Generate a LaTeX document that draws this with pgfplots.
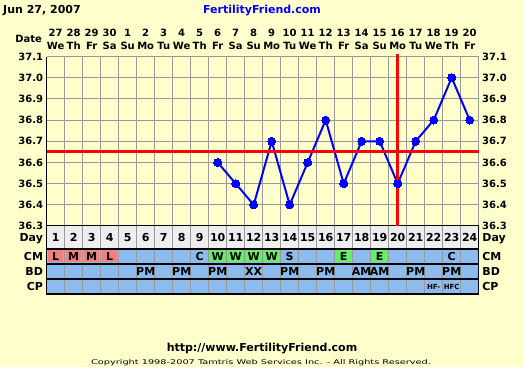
\documentclass[border=0pt]{standalone}
\usepackage{pgfplots}
\pgfplotsset{compat=1.18}
\usepackage{fontspec}
\setmainfont{DejaVu Sans}
\usepackage{graphicx}

\definecolor{bgy}{RGB}{255,255,204}
\definecolor{cellblue}{RGB}{140,188,238}
\definecolor{daygray}{RGB}{238,238,238}
\definecolor{cmred}{RGB}{240,128,128}
\definecolor{cmgreen}{RGB}{102,238,102}
\definecolor{gridgray}{RGB}{153,153,153}
\definecolor{ffblue}{RGB}{0,0,255}

\newcommand{\tk}{\bfseries\fontsize{10}{13}\selectfont}
\newcommand{\tb}{\bfseries\fontsize{11}{13}\selectfont}
\newcommand{\ts}{\bfseries\fontsize{7}{8}\selectfont}

\begin{document}
\begin{tikzpicture}[x=1pt,y=1pt]
\fill[bgy] (0,0) rectangle (524,367);
\node[anchor=base west, inner sep=0, font=\tb] at (3,353) {Jun 27, 2007};
\node[anchor=base, inner sep=0, font=\tb, text=ffblue] at (262,353) {FertilityFriend.com};
\node[anchor=base, inner sep=0, font=\tb] at (262,16) {http://www.FertilityFriend.com};
\node[anchor=base, inner sep=0] at (261,2.5) {\scalebox{1.5}[1]{\fontsize{6.5}{7}\selectfont Copyright 1998-2007 Tamtris Web Services Inc. - All Rights Reserved.}};

% ---------------- temperature chart ----------------
\begin{axis}[
  at={(46.7pt,141pt)}, anchor=south west,
  scale only axis, width=432pt, height=169.5pt,
  xmin=0.5, xmax=24.5, ymin=36.3, ymax=37.1,
  clip=false,
  axis line style={draw=none},
  major tick length=0pt, minor tick length=0pt,
  xtick={1,...,24},
  xticklabel pos=upper,
  xticklabels={{27\\We},{28\\Th},{29\\Fr},{30\\Sa},{1\\Su},{2\\Mo},{3\\Tu},{4\\We},{5\\Th},{6\\Fr},{7\\Sa},{8\\Su},{9\\Mo},{10\\Tu},{11\\We},{12\\Th},{13\\Fr},{14\\Sa},{15\\Su},{16\\Mo},{17\\Tu},{18\\We},{19\\Th},{20\\Fr}},
  xticklabel style={align=center, font=\tk, yshift=3.5pt},
  minor xtick={0.5,1.5,...,24.5},
  xminorgrids=true,
  ytick={36.3,36.4,36.5,36.6,36.7,36.8,36.9,37.0,37.1},
  yticklabels={36.3,36.4,36.5,36.6,36.7,36.8,36.9,37.0,37.1},
  yticklabel style={font=\tk},
  ymajorgrids=true,
  grid style={gridgray, line width=1pt},
]
\addplot[black, line width=1.2pt] coordinates {(0.5,37.1) (0.5,36.3) (24.5,36.3)};
\addplot[ffblue, line width=2pt, mark=*, mark size=4pt, mark options={fill=ffblue, line width=0pt}]
  coordinates {(10,36.6) (11,36.5) (12,36.4) (13,36.7) (14,36.4) (15,36.6) (16,36.8) (17,36.5)
               (18,36.7) (19,36.7) (20,36.5) (21,36.7) (22,36.8) (23,37.0) (24,36.8)};
\addplot[red, line width=3pt] coordinates {(0.5,36.65) (24.5,36.65)};
\addplot[red, line width=3pt] coordinates {(20,36.3) (20,37.11)};
\node[anchor=east, font=\tk, inner sep=0, xshift=-4.5pt, yshift=18pt] at (axis cs:0.5,37.1) {Date};
\end{axis}

% right-hand tick labels
\begin{axis}[
  at={(46.7pt,141pt)}, anchor=south west,
  scale only axis, width=432pt, height=169.5pt,
  xmin=0.5, xmax=24.5, ymin=36.3, ymax=37.1,
  axis line style={draw=none},
  major tick length=0pt,
  xtick=\empty,
  ytick={36.3,36.4,36.5,36.6,36.7,36.8,36.9,37.0,37.1},
  yticklabels={36.3,36.4,36.5,36.6,36.7,36.8,36.9,37.0,37.1},
  yticklabel pos=right,
  yticklabel style={font=\tk},
]
\end{axis}

% ---------------- table below ----------------
\begin{axis}[
  at={(46.7pt,73pt)}, anchor=south west,
  scale only axis, width=432pt, height=68pt,
  xmin=0.5, xmax=24.5, ymin=0, ymax=68,
  clip=false, axis line style={draw=none},
  xtick=\empty, ytick=\empty,
]
\addplot[fill=cellblue, draw=none] coordinates {(0.5,0) (24.5,0) (24.5,45) (0.5,45)};
\addplot[fill=daygray, draw=none] coordinates {(0.5,45) (24.5,45) (24.5,68) (0.5,68)};
% CM coloured cells
\addplot[fill=cmred, draw=none] coordinates {(0.58,31.5) (1.42,31.5) (1.42,43.5) (0.58,43.5)};
\addplot[fill=cmred, draw=none] coordinates {(1.58,31.5) (2.42,31.5) (2.42,43.5) (1.58,43.5)};
\addplot[fill=cmred, draw=none] coordinates {(2.58,31.5) (3.42,31.5) (3.42,43.5) (2.58,43.5)};
\addplot[fill=cmred, draw=none] coordinates {(3.58,31.5) (4.42,31.5) (4.42,43.5) (3.58,43.5)};
\addplot[fill=cmgreen, draw=none] coordinates {(9.58,31.5) (10.42,31.5) (10.42,43.5) (9.58,43.5)};
\addplot[fill=cmgreen, draw=none] coordinates {(10.58,31.5) (11.42,31.5) (11.42,43.5) (10.58,43.5)};
\addplot[fill=cmgreen, draw=none] coordinates {(11.58,31.5) (12.42,31.5) (12.42,43.5) (11.58,43.5)};
\addplot[fill=cmgreen, draw=none] coordinates {(12.58,31.5) (13.42,31.5) (13.42,43.5) (12.58,43.5)};
\addplot[fill=cmgreen, draw=none] coordinates {(16.58,31.5) (17.42,31.5) (17.42,43.5) (16.58,43.5)};
\addplot[fill=cmgreen, draw=none] coordinates {(18.58,31.5) (19.42,31.5) (19.42,43.5) (18.58,43.5)};
% vertical grid lines
\pgfplotsinvokeforeach{1.5,2.5,...,23.5}{
  \addplot[gridgray, line width=1pt] coordinates {(#1,0) (#1,68)};
}
% horizontal black lines and borders
\addplot[black, line width=1.2pt] coordinates {(0.5,45) (24.5,45)};
\addplot[black, line width=1.2pt] coordinates {(0.5,30) (24.5,30)};
\addplot[black, line width=1.2pt] coordinates {(0.5,15) (24.5,15)};
\addplot[black, line width=1.2pt] coordinates {(0.5,68) (0.5,0) (24.5,0) (24.5,68)};
% day numbers
\pgfplotsinvokeforeach{1,...,24}{
  \node[anchor=base, font=\tb, inner sep=0] at (axis cs:#1,52.5) {#1};
}
% row labels
\node[anchor=base east, font=\tb, inner sep=0, xshift=-3.5pt] at (axis cs:0.5,52.5) {Day};
\node[anchor=base east, font=\tb, inner sep=0, xshift=-3.5pt] at (axis cs:0.5,33.5) {CM};
\node[anchor=base east, font=\tb, inner sep=0, xshift=-3.5pt] at (axis cs:0.5,18.5) {BD};
\node[anchor=base east, font=\tb, inner sep=0, xshift=-3.5pt] at (axis cs:0.5,3.5) {CP};
\node[anchor=base west, font=\tb, inner sep=0, xshift=3.5pt] at (axis cs:24.5,52.5) {Day};
\node[anchor=base west, font=\tb, inner sep=0, xshift=3.5pt] at (axis cs:24.5,33.5) {CM};
\node[anchor=base west, font=\tb, inner sep=0, xshift=3.5pt] at (axis cs:24.5,18.5) {BD};
\node[anchor=base west, font=\tb, inner sep=0, xshift=3.5pt] at (axis cs:24.5,3.5) {CP};
% CM entries
\node[anchor=base, font=\tb, inner sep=0] at (axis cs:1,33.5) {L};
\node[anchor=base, font=\tb, inner sep=0] at (axis cs:2,33.5) {M};
\node[anchor=base, font=\tb, inner sep=0] at (axis cs:3,33.5) {M};
\node[anchor=base, font=\tb, inner sep=0] at (axis cs:4,33.5) {L};
\node[anchor=base, font=\tb, inner sep=0] at (axis cs:9,33.5) {C};
\node[anchor=base, font=\tb, inner sep=0] at (axis cs:10,33.5) {W};
\node[anchor=base, font=\tb, inner sep=0] at (axis cs:11,33.5) {W};
\node[anchor=base, font=\tb, inner sep=0] at (axis cs:12,33.5) {W};
\node[anchor=base, font=\tb, inner sep=0] at (axis cs:13,33.5) {W};
\node[anchor=base, font=\tb, inner sep=0] at (axis cs:14,33.5) {S};
\node[anchor=base, font=\tb, inner sep=0] at (axis cs:17,33.5) {E};
\node[anchor=base, font=\tb, inner sep=0] at (axis cs:19,33.5) {E};
\node[anchor=base, font=\tb, inner sep=0] at (axis cs:23,33.5) {C};
% BD entries
\node[anchor=base, font=\tb, inner sep=0] at (axis cs:6,18.5) {PM};
\node[anchor=base, font=\tb, inner sep=0] at (axis cs:8,18.5) {PM};
\node[anchor=base, font=\tb, inner sep=0] at (axis cs:10,18.5) {PM};
\node[anchor=base, font=\tb, inner sep=0] at (axis cs:12,18.5) {XX};
\node[anchor=base, font=\tb, inner sep=0] at (axis cs:14,18.5) {PM};
\node[anchor=base, font=\tb, inner sep=0] at (axis cs:16,18.5) {PM};
\node[anchor=base, font=\tb, inner sep=0] at (axis cs:18,18.5) {AM};
\node[anchor=base, font=\tb, inner sep=0] at (axis cs:19,18.5) {AM};
\node[anchor=base, font=\tb, inner sep=0] at (axis cs:21,18.5) {PM};
\node[anchor=base, font=\tb, inner sep=0] at (axis cs:23,18.5) {PM};
% CP entries
\node[anchor=base, font=\ts, inner sep=0] at (axis cs:22,4.5) {HF-};
\node[anchor=base, font=\ts, inner sep=0] at (axis cs:23,4.5) {HFC};
\end{axis}
\end{tikzpicture}
\end{document}
